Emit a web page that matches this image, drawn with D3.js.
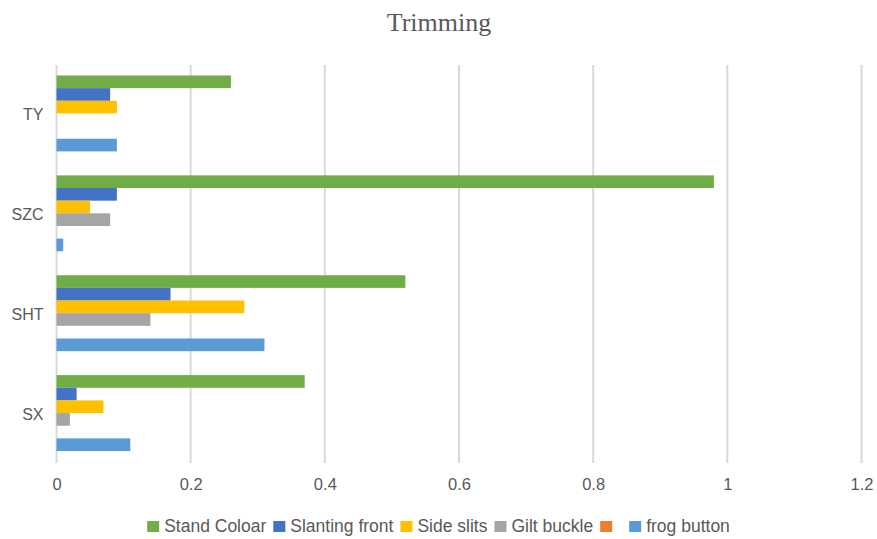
<!DOCTYPE html>
<html>
<head>
<meta charset="utf-8">
<script src="https://cdn.jsdelivr.net/npm/d3@7"></script>
<style>
  body { margin: 0; background: #fff; }
  svg { display: block; }
</style>
</head>
<body>
<svg id="chart" width="877" height="539"></svg>
<script>
// Garment categories, top to bottom
const categories = ["TY", "SZC", "SHT", "SX"];

// Series names (the fifth series has no name)
const seriesNames = ["Stand Coloar", "Slanting front", "Side slits", "Gilt buckle", "", "frog button"];

// Values per series, in category order
const standColoar   = [0.26, 0.98, 0.52, 0.37];
const slantingFront = [0.08, 0.09, 0.17, 0.03];
const sideSlits     = [0.09, 0.05, 0.28, 0.07];
const giltBuckle    = [0.00, 0.08, 0.14, 0.02];
const unnamed       = [0.00, 0.00, 0.00, 0.00];
const frogButton    = [0.09, 0.01, 0.31, 0.11];

const seriesValues = [standColoar, slantingFront, sideSlits, giltBuckle, unnamed, frogButton];
const colors = ["#70AD47", "#4472C4", "#FFC000", "#A5A5A5", "#ED7D31", "#5B9BD5"];

const xTicks = [0, 0.2, 0.4, 0.6, 0.8, 1, 1.2];
const title = "Trimming";

const svg = d3.select("#chart");
const W = 877, H = 539;
const plot = { left: 56.5, right: 861.5, top: 65, bottom: 463 };

const x = d3.scaleLinear().domain([0, 1.2]).range([plot.left, plot.right]);
const y0 = d3.scaleBand().domain(categories).range([plot.top - 1.5, plot.bottom]).paddingInner(0.24).paddingOuter(0.12);
const y1 = d3.scaleBand().domain(d3.range(seriesNames.length)).range([0, y0.bandwidth()]);

// Title
svg.append("text")
  .attr("x", 439).attr("y", 31)
  .attr("text-anchor", "middle")
  .attr("font-family", "'Times New Roman', 'Liberation Serif', serif")
  .attr("font-size", 26)
  .attr("fill", "#595959")
  .text(title);

// Vertical gridlines
svg.append("g")
  .selectAll("line")
  .data(xTicks)
  .join("line")
  .attr("x1", d => x(d)).attr("x2", d => x(d))
  .attr("y1", plot.top).attr("y2", plot.bottom)
  .attr("stroke", "#d9d9d9").attr("stroke-width", 2);

// X axis labels
const xAxis = d3.axisBottom(x).tickValues(xTicks).tickSize(0).tickPadding(15)
  .tickFormat(d => String(d));
const gx = svg.append("g").attr("transform", `translate(0,${plot.bottom})`).call(xAxis);
gx.select(".domain").remove();
gx.selectAll("text")
  .attr("font-family", "'Liberation Sans', Arial, sans-serif")
  .attr("font-size", 16.5).attr("fill", "#595959");

// Y axis labels
const yAxis = d3.axisLeft(y0).tickSize(0).tickPadding(13);
const gy = svg.append("g").attr("transform", `translate(${plot.left},1.5)`).call(yAxis);
gy.select(".domain").remove();
gy.selectAll("text")
  .attr("font-family", "'Liberation Sans', Arial, sans-serif")
  .attr("font-size", 16).attr("fill", "#595959");

// Bars
const groups = svg.append("g")
  .selectAll("g")
  .data(categories)
  .join("g")
  .attr("transform", c => `translate(0,${y0(c)})`);

groups.selectAll("rect")
  .data((c, ci) => seriesValues.map((vals, si) => ({ si, v: vals[ci] })))
  .join("rect")
  .filter(d => d.v > 0)
  .attr("x", x(0))
  .attr("y", d => y1(d.si))
  .attr("width", d => x(d.v) - x(0))
  .attr("height", y1.bandwidth())
  .attr("fill", d => colors[d.si]);

// Legend
const legend = svg.append("g");
const items = legend.selectAll("g").data(seriesNames).join("g");
items.append("rect").attr("width", 12).attr("height", 11).attr("y", -11)
  .attr("fill", (d, i) => colors[i]);
items.append("text").attr("x", 17).attr("y", 0)
  .attr("font-family", "'Liberation Sans', Arial, sans-serif")
  .attr("font-size", 17.5).attr("fill", "#595959")
  .text(d => d);
let offset = 0;
items.each(function (d) {
  // an unnamed entry still reserves the width of a blank label
  const tw = d ? this.querySelector("text").getComputedTextLength() : 5;
  d3.select(this).attr("transform", `translate(${offset},0)`);
  offset += 17 + tw + 7;
});
const totalW = offset - 7;
legend.attr("transform", `translate(${(W - totalW) / 2},532)`);
</script>
</body>
</html>
